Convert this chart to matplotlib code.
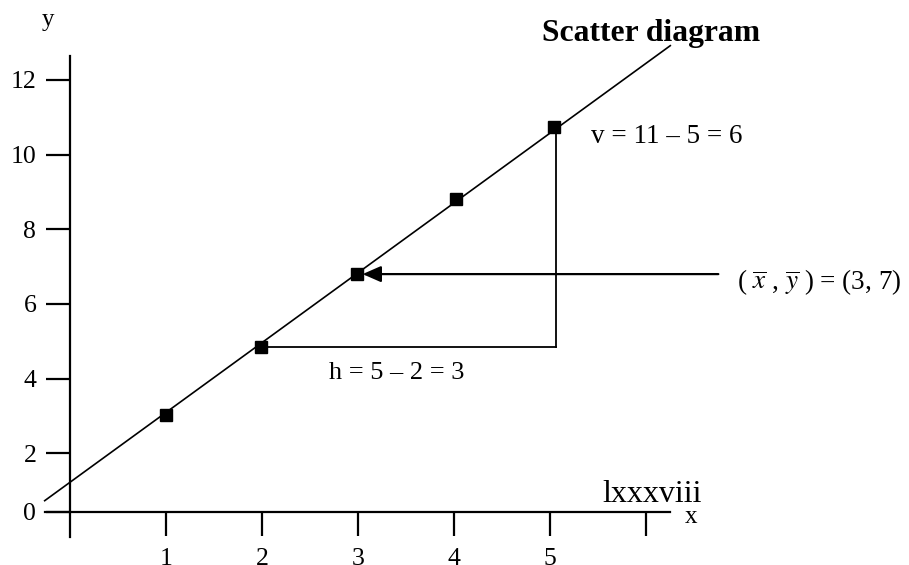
"""
Scatter diagram with fitted line, slope triangle and mean point.
"""

import matplotlib
matplotlib.use("Agg")
import matplotlib.pyplot as plt

plt.rcParams["font.family"] = ["Liberation Serif", "DejaVu Serif"]
plt.rcParams["mathtext.fontset"] = "stix"

# points as they sit in the picture
x_vals = [1.0, 1.99, 2.99, 4.02, 5.04]
y_vals = [3.02, 4.86, 6.80, 8.80, 10.75]

# fitted line, end points
line_x = [-0.26, 6.25]
line_y = [0.73, 12.92]

# corner of the rise/run triangle
corner_x = 5.06

# mean point and where the arrow starts
mean_x, mean_y = 2.99, 6.80
arrow_from_x = 6.75

x_ticks = [1, 2, 3, 4, 5, 6]
x_labels = ["1", "2", "3", "4", "5", ""]
y_ticks = [0.44, 2, 4, 6, 8, 10, 12]
y_labels = ["0", "2", "4", "6", "8", "10", "12"]


def main():
    fig = plt.figure(figsize=(9.09, 5.65), dpi=100)
    ax = fig.add_axes([0, 0, 1, 1])
    ax.set_xlim(-0.725, 8.734)
    ax.set_ylim(-0.993, 14.143)
    ax.patch.set_alpha(0)

    # axes drawn like a textbook sketch
    for s in ["top", "right"]:
        ax.spines[s].set_visible(False)
    ax.spines["left"].set_position(("data", 0))
    ax.spines["bottom"].set_position(("data", y_ticks[0]))
    ax.spines["left"].set_bounds(-0.234, 12.64)
    ax.spines["bottom"].set_bounds(-0.26, 6.25)
    ax.spines["left"].set_linewidth(1.6)
    ax.spines["bottom"].set_linewidth(1.6)

    ax.set_xticks(x_ticks)
    ax.set_xticklabels(x_labels)
    ax.set_yticks(y_ticks)
    ax.set_yticklabels(y_labels)
    ax.tick_params(axis="x", direction="out", length=17.5, width=1.6, pad=8.6, labelsize=18.5)
    ax.tick_params(axis="y", direction="out", length=17.5, width=1.6, pad=6.5, labelsize=18.5)

    # fitted line and points
    ax.plot(line_x, line_y, color="black", lw=1.2)
    ax.plot(x_vals, y_vals, "s", color="black", markersize=8.3)

    # h and v legs
    ax.plot([x_vals[1], corner_x], [y_vals[1], y_vals[1]], color="black", lw=1.3)
    ax.plot([corner_x, corner_x], [y_vals[1], y_vals[4]], color="black", lw=1.3)

    # arrow to the mean point
    ax.annotate("", xy=(mean_x, mean_y), xytext=(arrow_from_x, mean_y),
                arrowprops=dict(arrowstyle="-|>,head_length=0.8,head_width=0.35",
                                mutation_scale=14, color="black", lw=1.6,
                                shrinkA=0, shrinkB=4))

    ax.text(6.05, 13.05, "Scatter diagram", fontsize=22.8, fontweight="bold",
            ha="center", va="baseline")
    ax.text(5.43, 10.30, "v = 11 – 5 = 6", fontsize=19.5, va="baseline")
    ax.text(2.70, 3.98, "h = 5 – 2 = 3", fontsize=19, va="baseline")
    ax.text(6.94, 6.39, r"( $\overline{x}$ , $\overline{y}$ ) = (3, 7)",
            fontsize=19.5, va="baseline")
    ax.text(5.54, 0.70, "lxxxviii", fontsize=23, va="baseline")
    ax.text(6.40, 0.125, "x", fontsize=18, va="baseline")
    ax.text(-0.29, 13.45, "y", fontsize=18, va="baseline")

    fig.savefig("out.png", dpi=100)


if __name__ == "__main__":
    main()
